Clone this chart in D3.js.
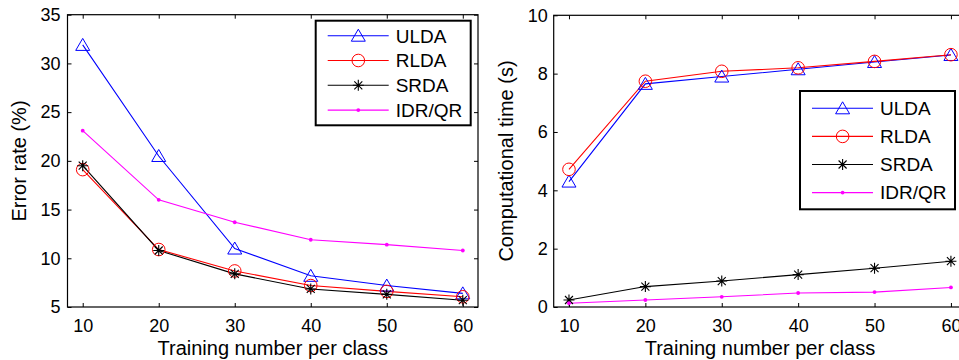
<!DOCTYPE html>
<html>
<head>
<meta charset="utf-8">
<script src="https://cdn.jsdelivr.net/npm/d3@7"></script>
<style>
  body { margin: 0; background: #fff; }
  svg { display: block; }
  text { font-family: "Liberation Sans", Arial, Helvetica, sans-serif; fill: #000; }
</style>
</head>
<body>
<div id="chart"></div>
<script>
// training number per class (x)
var trainNum = [10, 20, 30, 40, 50, 60]
var methods = ["ULDA", "RLDA", "SRDA", "IDR/QR"]
var colors = ["#0000ff", "#ff0000", "#000000", "#ff00ff"]
var markers = ["triangle", "circle", "star", "dot"]

// left panel: error rate (%)
var errULDA = [31.9, 20.5, 11.0, 8.2, 7.2, 6.4]
var errRLDA = [19.1, 10.9, 8.7, 7.2, 6.6, 6.05]
var errSRDA = [19.5, 10.8, 8.4, 6.85, 6.3, 5.7]
var errIDR = [23.1, 16.0, 13.7, 11.9, 11.4, 10.8]
var errTicks = [5, 10, 15, 20, 25, 30, 35]

// right panel: computational time (s)
var timeULDA = [4.3, 7.65, 7.9, 8.15, 8.4, 8.64]
var timeRLDA = [4.72, 7.74, 8.08, 8.2, 8.42, 8.65]
var timeSRDA = [0.24, 0.7, 0.89, 1.11, 1.33, 1.57]
var timeIDR = [0.13, 0.24, 0.35, 0.48, 0.51, 0.67]
var timeTicks = [0, 2, 4, 6, 8, 10]

var svg = d3.select("#chart").append("svg")
  .attr("width", 959)
  .attr("height", 360)

function drawMarker(g, type, color) {
  if (type == "triangle") {
    g.append("path").attr("d", "M0,-6.5L7,5.5L-7,5.5Z")
      .attr("fill", "none").attr("stroke", color).attr("stroke-width", 1)
  } else if (type == "circle") {
    g.append("circle").attr("r", 6.3)
      .attr("fill", "none").attr("stroke", color).attr("stroke-width", 1)
  } else if (type == "star") {
    var a = 5.5, b = 4
    g.append("path")
      .attr("d", "M0," + (-a) + "V" + a + "M" + (-a) + ",0H" + a +
        "M" + (-b) + "," + (-b) + "L" + b + "," + b + "M" + (-b) + "," + b + "L" + b + "," + (-b))
      .attr("stroke", color).attr("stroke-width", 1.1).attr("fill", "none")
  } else {
    g.append("circle").attr("r", 1.9).attr("fill", color)
  }
}

function drawPanel(opt) {
  var x = d3.scaleLinear().domain([8, 62]).range([opt.left, opt.right])
  var y = d3.scaleLinear().domain(opt.ydomain).range([307, opt.top])
  var g = svg.append("g")

  // inward ticks on all four sides
  var bottom = g.append("g").attr("transform", "translate(0,307)")
    .call(d3.axisBottom(x).tickValues(trainNum).tickSize(-4).tickPadding(12))
  var topAx = g.append("g").attr("transform", "translate(0," + opt.top + ")")
    .call(d3.axisTop(x).tickValues(trainNum).tickSize(-4).tickFormat(""))
  var leftAx = g.append("g").attr("transform", "translate(" + opt.left + ",0)")
    .call(d3.axisLeft(y).tickValues(opt.yticks).tickSize(-4).tickPadding(opt.ypad))
  var rightAx = g.append("g").attr("transform", "translate(" + opt.right + ",0)")
    .call(d3.axisRight(y).tickValues(opt.yticks).tickSize(-4).tickFormat(""))

  g.selectAll(".domain").remove()
  g.selectAll(".tick line").attr("stroke", "#000").attr("stroke-width", 1)
  g.selectAll(".tick text").style("font-size", "18px").attr("font-family", null)

  // box
  g.append("rect")
    .attr("x", opt.left).attr("y", opt.top)
    .attr("width", opt.right - opt.left).attr("height", 307 - opt.top)
    .attr("fill", "none").attr("stroke", "#000").attr("stroke-width", 1.2)

  var line = d3.line().x(function(d, i) { return x(trainNum[i]) }).y(function(d) { return y(d) })

  opt.series.forEach(function(vals, k) {
    g.append("path").datum(vals)
      .attr("d", line)
      .attr("fill", "none")
      .attr("stroke", colors[k])
      .attr("stroke-width", 1.1)
  })
  opt.series.forEach(function(vals, k) {
    vals.forEach(function(v, i) {
      var m = g.append("g").attr("transform", "translate(" + x(trainNum[i]) + "," + y(v) + ")")
      drawMarker(m, markers[k], colors[k])
    })
  })

  // axis titles
  g.append("text")
    .attr("x", (opt.left + opt.right) / 2).attr("y", 355)
    .attr("text-anchor", "middle")
    .style("font-size", "20px")
    .text("Training number per class")
  g.append("text")
    .attr("transform", "translate(" + opt.ylabelX + ",161)rotate(-90)")
    .attr("text-anchor", "middle")
    .style("font-size", "20px")
    .text(opt.ylabel)

  // legend
  var lg = opt.legend
  g.append("rect")
    .attr("x", lg.x).attr("y", lg.y).attr("width", lg.w).attr("height", lg.h)
    .attr("fill", "#fff").attr("stroke", "#000").attr("stroke-width", 2)
  methods.forEach(function(name, k) {
    var ey = lg.y + lg.first + k * lg.step
    g.append("line")
      .attr("x1", lg.x + 12).attr("x2", lg.x + 73)
      .attr("y1", ey).attr("y2", ey)
      .attr("stroke", colors[k]).attr("stroke-width", 1.1)
    var m = g.append("g").attr("transform", "translate(" + (lg.x + 42.6) + "," + ey + ")")
    drawMarker(m, markers[k], colors[k])
    g.append("text")
      .attr("x", lg.x + 80).attr("y", ey)
      .attr("dy", "0.36em")
      .style("font-size", "19px")
      .text(name)
  })
}

drawPanel({
  left: 67.5, right: 478, top: 14.7,
  ydomain: [5, 35], yticks: errTicks, ypad: 7,
  series: [errULDA, errRLDA, errSRDA, errIDR],
  ylabel: "Error rate (%)", ylabelX: 25.5,
  legend: { x: 315.7, y: 20.7, w: 155, h: 104.6, first: 15, step: 24.8 }
})

drawPanel({
  left: 553.7, right: 966.2, top: 15.3,
  ydomain: [0, 10], yticks: timeTicks, ypad: 6,
  series: [timeULDA, timeRLDA, timeSRDA, timeIDR],
  ylabel: "Computational time (s)", ylabelX: 512.5,
  legend: { x: 800, y: 91, w: 155, h: 118.3, first: 17.3, step: 28.1 }
})
</script>
</body>
</html>
